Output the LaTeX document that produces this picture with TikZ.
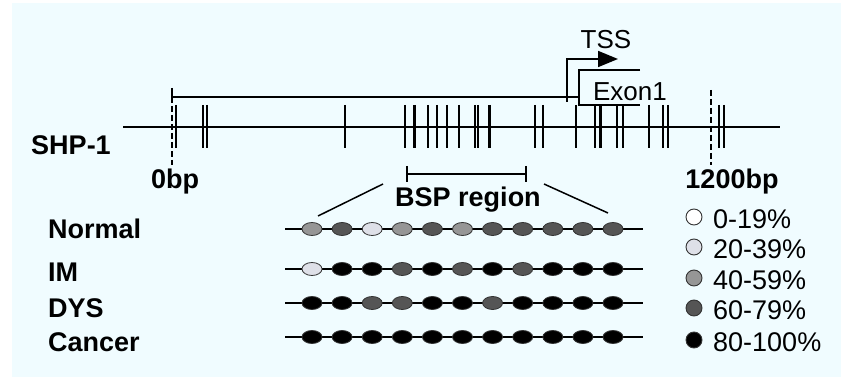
\documentclass[tikz,border=0pt]{standalone}
\usepackage{fontspec}
\setmainfont{Liberation Sans}
\usetikzlibrary{arrows.meta,shapes.geometric}
\definecolor{bgcyan}{RGB}{240,252,255}
\definecolor{mA}{RGB}{255,255,255}
\definecolor{mB}{RGB}{222,224,232}
\definecolor{mC}{RGB}{150,150,150}
\definecolor{mD}{RGB}{85,85,85}
\definecolor{mE}{RGB}{0,0,0}
\tikzset{
  lbl/.style={inner sep=0pt, font=\fontsize{26}{29}\selectfont},
  leglbl/.style={inner sep=0pt, font=\fontsize{27}{30}\selectfont},
  blbl/.style={inner sep=0pt, font=\fontsize{27}{30}\selectfont\bfseries},
  site/.style={draw=black!80, line width=0.8pt, ellipse, minimum width=20pt, minimum height=13pt, inner sep=0pt},
  dot/.style={draw=black!80, line width=0.9pt, circle, minimum size=16pt, inner sep=0pt},
  gene/.style={line width=1.8pt},
  tick/.style={line width=1.6pt},
  thicktick/.style={line width=3pt},
}
\begin{document}
\begin{tikzpicture}[x=1pt,y=-1pt]
\useasboundingbox (0,0) rectangle (841,379);
\fill[bgcyan] (12,3) rectangle (841,377);

% gene backbone and CpG sites
\draw[gene] (123,127) -- (780,127);
\foreach \x in {176,203,207,345,405,428,437,447,459,475,478,535,543,576,595,617,623,649,663,668,719,724}
  \draw[tick] (\x,105) -- (\x,148);
\foreach \x in {414,489,600}
  \draw[thicktick] (\x,105) -- (\x,148);

% 0bp / 1200bp markers
\draw[line width=1.6pt] (172,88) -- (172,97);
\draw[line width=1.6pt, dash pattern=on 6pt off 3pt] (172,97) -- (172,165);
\draw[line width=1.6pt, dash pattern=on 6pt off 3pt] (711,90) -- (711,165);

% promoter span, TSS and exon 1
\draw[gene] (172,97) -- (579,97);
\draw[gene, -{Triangle[length=20pt,width=16pt]}] (567,102) -- (567,59) -- (618,59);
\draw[gene] (640,70) -- (579,70) -- (579,105) -- (640,105);

\node[lbl] (tss) at (606,40) {TSS};
\node[lbl] (exon) at (630,92) {Exon1};
\node[blbl] (shp) at (71,145) {SHP-1};
\node[blbl] (bp0) at (175,182) {0bp};
\node[blbl] (bp1200) at (732,182) {1200bp};

% BSP region bracket and zoom lines
\draw[gene] (407,166) -- (407,182);
\draw[gene] (526,166) -- (526,182);
\draw[gene] (407,174) -- (526,174);
\node[blbl] (bsp) at (468,200) {BSP region};
\draw[line width=1.5pt] (383,184) -- (318,216);
\draw[line width=1.5pt] (544,184) -- (608,213);

% methylation rows
\node[blbl, anchor=west] (nNormal) at (48,229) {Normal};
\node[blbl, anchor=west] (nIM) at (48,272) {IM};
\node[blbl, anchor=west] (nDYS) at (48,308) {DYS};
\node[blbl, anchor=west] (nCancer) at (48,342) {Cancer};

\foreach \y/\cols [count=\r] in {229/{mC,mD,mB,mC,mD,mC,mD,mD,mD,mD,mD},
                     269/{mB,mE,mE,mD,mE,mD,mE,mD,mE,mE,mE},
                     303/{mE,mE,mD,mD,mE,mE,mD,mE,mE,mE,mE},
                     337/{mE,mE,mE,mE,mE,mE,mE,mE,mE,mE,mE}} {
  \draw[gene] (285,\y) -- (643,\y);
  \foreach \c [count=\i] in \cols
    \node[site, fill=\c] (s\r-\i) at ({312+30.1*(\i-1)},\y) {};
}

% legend
\foreach \y/\c/\t [count=\k] in {217/mA/0-19\%, 247/mB/20-39\%, 278/mC/40-59\%, 308/mD/60-79\%, 340/mE/80-100\%} {
  \node[dot, fill=\c] (ld\k) at (694,\y) {};
  \node[leglbl, anchor=west] (lt\k) at (713,\y+2) {\t};
}
\end{tikzpicture}
\end{document}
